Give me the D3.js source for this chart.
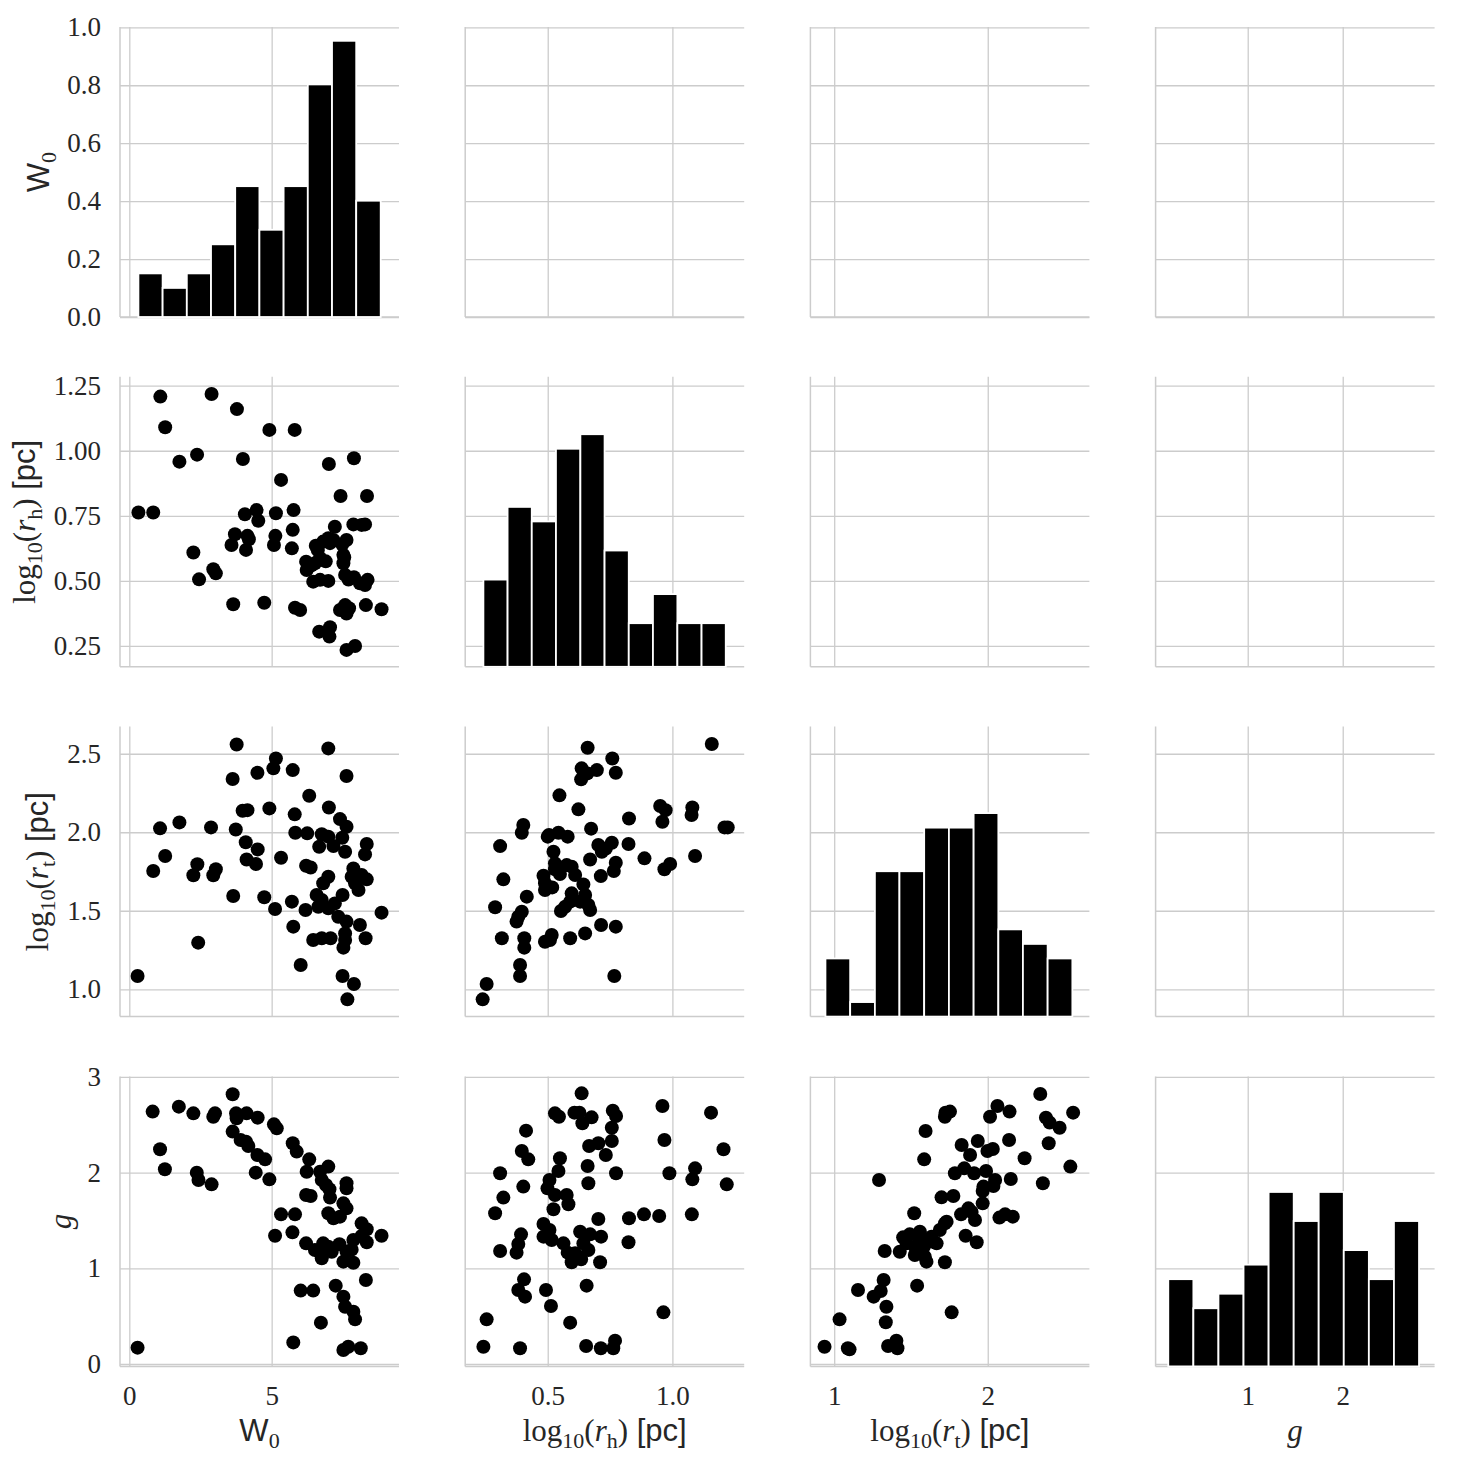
<!DOCTYPE html>
<html>
<head>
<meta charset="utf-8">
<script src="https://cdn.jsdelivr.net/npm/d3@7"></script>
<style>
  body { margin: 0; background: #fff; }
  svg text { fill: #262626; }
</style>
</head>
<body>
<div id="chart"></div>
<script>
// ---- data ----
var varNames = ["W0", "rh", "rt", "g"];

// histogram bin edges and counts (diagonal)
var w0Edges = [0.32, 1.17, 2.02, 2.87, 3.72, 4.57, 5.42, 6.27, 7.12, 7.97, 8.83];
var w0Counts = [3, 2, 3, 5, 9, 6, 9, 16, 19, 8];
var rhEdges = [0.242, 0.339, 0.436, 0.533, 0.631, 0.728, 0.825, 0.922, 1.020, 1.117, 1.214];
var rhCounts = [6, 11, 10, 15, 16, 8, 3, 5, 3, 3];
var rtEdges = [0.943, 1.104, 1.265, 1.425, 1.586, 1.747, 1.908, 2.069, 2.229, 2.390, 2.551];
var rtCounts = [4, 1, 10, 10, 13, 13, 14, 6, 5, 4];
var gEdges = [0.164, 0.428, 0.692, 0.956, 1.220, 1.484, 1.747, 2.011, 2.275, 2.539, 2.803];
var gCounts = [6, 4, 5, 7, 12, 10, 12, 8, 6, 10];

// scatter panels [x, y]
var w0Rh = [[1.09,1.208],[2.89,1.218],[3.78,1.160],[1.26,1.090],[4.92,1.080],[5.81,1.080],[1.76,0.958],[2.38,0.985],[3.99,0.968],[7.01,0.949],[7.89,0.971],[5.33,0.888],[7.42,0.826],[8.35,0.826],[0.32,0.763],[0.84,0.763],[4.06,0.756],[4.47,0.772],[4.53,0.731],[5.15,0.760],[5.77,0.772],[5.74,0.696],[7.22,0.708],[7.87,0.717],[8.28,0.717],[8.16,0.715],[3.71,0.679],[4.15,0.673],[3.59,0.638],[4.10,0.619],[5.13,0.673],[5.08,0.638],[5.71,0.625],[2.25,0.609],[6.55,0.635],[6.81,0.651],[6.99,0.664],[7.63,0.657],[6.70,0.587],[6.52,0.568],[6.21,0.574],[6.23,0.542],[7.52,0.600],[7.52,0.568],[2.95,0.545],[3.04,0.529],[2.45,0.506],[6.46,0.497],[6.70,0.504],[6.99,0.500],[7.58,0.523],[7.89,0.514],[8.10,0.491],[8.28,0.484],[8.37,0.504],[3.65,0.410],[4.74,0.416],[5.82,0.397],[6.00,0.388],[7.40,0.388],[7.63,0.375],[7.58,0.407],[8.31,0.407],[8.86,0.391],[6.67,0.305],[7.05,0.322],[7.03,0.286],[7.63,0.235],[7.93,0.250],[7.17,0.657],[6.62,0.618],[6.90,0.575],[6.40,0.560],[7.05,0.645],[7.48,0.640],[7.70,0.505],[7.72,0.395],[7.55,0.590],[4.20,0.660],[6.30,0.555]];

var w0Rt = [[3.77,2.559],[6.99,2.534],[5.15,2.470],[5.06,2.407],[5.74,2.396],[4.50,2.379],[3.63,2.339],[7.63,2.358],[6.32,2.233],[3.98,2.137],[4.15,2.141],[4.92,2.152],[7.01,2.158],[5.81,2.114],[7.40,2.084],[1.76,2.063],[1.08,2.025],[2.87,2.031],[3.74,2.018],[5.83,1.997],[6.25,1.993],[6.76,1.987],[6.99,1.972],[7.63,2.035],[7.48,1.965],[4.09,1.936],[6.67,1.908],[7.17,1.912],[8.34,1.925],[4.51,1.891],[7.58,1.876],[8.28,1.859],[1.26,1.849],[4.12,1.827],[4.45,1.798],[5.33,1.838],[2.39,1.796],[2.25,1.726],[0.84,1.753],[3.04,1.764],[2.95,1.726],[6.21,1.787],[6.37,1.776],[7.87,1.770],[7.81,1.717],[8.16,1.728],[8.34,1.700],[6.99,1.717],[6.81,1.675],[7.93,1.675],[8.05,1.632],[7.49,1.600],[3.65,1.594],[4.74,1.586],[6.58,1.600],[6.76,1.569],[5.71,1.558],[6.64,1.526],[6.99,1.516],[7.22,1.547],[5.12,1.511],[6.19,1.505],[8.86,1.488],[7.34,1.462],[7.63,1.431],[5.76,1.399],[8.10,1.409],[6.46,1.314],[6.76,1.325],[7.07,1.325],[7.58,1.356],[8.30,1.325],[2.42,1.297],[7.52,1.265],[6.02,1.155],[0.29,1.085],[7.49,1.085],[7.89,1.034],[7.66,0.936],[7.58,1.314]];

var w0G = [[3.63,2.819],[0.82,2.638],[1.74,2.690],[2.25,2.620],[2.95,2.585],[3.01,2.620],[3.75,2.620],[3.77,2.568],[4.12,2.620],[4.51,2.575],[5.08,2.505],[5.18,2.463],[3.63,2.429],[3.91,2.341],[4.10,2.324],[4.18,2.279],[1.08,2.244],[5.74,2.307],[5.88,2.220],[4.50,2.185],[4.77,2.139],[6.32,2.139],[6.99,2.063],[1.25,2.035],[2.37,2.000],[6.23,2.010],[6.70,2.010],[4.44,2.000],[2.43,1.923],[2.89,1.878],[4.92,1.930],[6.76,1.923],[6.91,1.871],[7.03,1.826],[7.63,1.889],[7.63,1.836],[6.21,1.767],[6.37,1.756],[7.05,1.739],[7.52,1.679],[7.63,1.627],[6.99,1.575],[7.17,1.523],[7.40,1.540],[5.33,1.564],[5.82,1.564],[5.12,1.341],[5.73,1.376],[8.16,1.470],[8.34,1.408],[8.16,1.338],[7.87,1.296],[8.34,1.272],[8.86,1.341],[6.21,1.261],[6.52,1.192],[6.81,1.261],[6.70,1.164],[6.76,1.105],[7.11,1.174],[7.38,1.251],[7.63,1.174],[7.52,1.070],[7.87,1.059],[8.31,0.878],[6.02,0.767],[6.46,0.767],[7.25,0.819],[7.52,0.704],[7.58,0.599],[7.87,0.547],[7.93,0.467],[6.73,0.432],[5.76,0.226],[0.29,0.171],[7.52,0.146],[7.69,0.181],[8.13,0.164],[6.99,1.226],[7.81,1.195]];

var rhRt = [[0.660,2.538],[0.759,2.470],[0.636,2.407],[0.697,2.396],[0.659,2.375],[0.773,2.379],[0.634,2.337],[1.158,2.562],[0.547,2.235],[0.623,2.146],[0.951,2.167],[0.973,2.141],[0.960,2.067],[1.080,2.158],[1.077,2.110],[0.826,2.088],[0.402,2.046],[0.396,1.997],[1.209,2.031],[1.222,2.031],[0.674,2.023],[0.500,1.972],[0.543,1.997],[0.580,1.972],[0.309,1.912],[0.523,1.876],[0.703,1.919],[0.757,1.933],[0.717,1.876],[0.824,1.925],[0.670,1.827],[0.888,1.834],[1.091,1.849],[0.773,1.806],[0.765,1.753],[0.968,1.764],[0.991,1.798],[0.576,1.791],[0.529,1.764],[0.549,1.734],[0.610,1.728],[0.483,1.723],[0.713,1.721],[0.322,1.700],[0.643,1.668],[0.489,1.632],[0.518,1.649],[0.416,1.590],[0.596,1.611],[0.630,1.558],[0.590,1.558],[0.289,1.522],[0.570,1.526],[0.663,1.537],[0.670,1.505],[0.553,1.499],[0.396,1.494],[0.382,1.462],[0.375,1.431],[0.714,1.409],[0.773,1.399],[0.316,1.325],[0.406,1.325],[0.406,1.265],[0.489,1.303],[0.516,1.346],[0.590,1.325],[0.650,1.356],[0.389,1.155],[0.389,1.085],[0.767,1.085],[0.255,1.034],[0.239,0.936],[0.509,1.314],[0.505,1.983],[0.733,1.897],[0.650,1.600],[0.529,1.802],[0.596,1.781],[0.489,1.675]];

var rhG = [[0.636,2.829],[0.960,2.697],[1.155,2.627],[0.529,2.620],[0.545,2.585],[0.607,2.627],[0.627,2.627],[0.639,2.516],[0.676,2.578],[0.761,2.648],[0.774,2.592],[0.757,2.470],[0.413,2.439],[0.968,2.341],[0.757,2.331],[0.666,2.279],[0.703,2.307],[0.396,2.226],[0.422,2.139],[1.205,2.244],[0.733,2.185],[0.549,2.150],[0.660,2.070],[1.091,2.045],[0.309,1.993],[0.543,2.017],[0.774,1.993],[0.988,1.993],[1.080,1.930],[1.218,1.878],[0.402,1.854],[0.507,1.923],[0.499,1.836],[0.663,1.889],[0.322,1.739],[0.529,1.767],[0.576,1.767],[0.583,1.669],[0.523,1.617],[0.289,1.575],[0.826,1.523],[0.886,1.564],[0.947,1.547],[1.078,1.564],[0.703,1.516],[0.483,1.463],[0.507,1.401],[0.483,1.331],[0.393,1.355],[0.630,1.383],[0.670,1.355],[0.714,1.331],[0.516,1.296],[0.563,1.261],[0.382,1.254],[0.309,1.181],[0.375,1.164],[0.580,1.164],[0.596,1.063],[0.634,1.094],[0.643,1.261],[0.824,1.272],[0.710,1.063],[0.405,0.885],[0.656,0.819],[0.382,0.774],[0.409,0.704],[0.493,0.774],[0.513,0.606],[0.964,0.540],[0.590,0.432],[0.255,0.467],[0.242,0.181],[0.389,0.164],[0.654,0.188],[0.713,0.164],[0.770,0.244],[0.763,0.164],[0.610,1.157],[0.663,1.192]];

var rtG = [[2.342,2.822],[2.063,2.697],[2.015,2.585],[2.142,2.638],[2.556,2.627],[1.725,2.627],[1.754,2.638],[1.721,2.585],[2.379,2.575],[2.403,2.523],[2.468,2.470],[1.595,2.436],[1.935,2.331],[1.830,2.289],[2.139,2.341],[2.397,2.307],[1.998,2.226],[2.033,2.247],[1.885,2.185],[2.240,2.150],[1.586,2.139],[2.538,2.063],[1.786,1.993],[1.847,2.045],[1.911,1.993],[1.989,2.017],[1.292,1.923],[2.150,1.934],[2.359,1.889],[1.972,1.854],[2.037,1.861],[1.967,1.808],[1.699,1.742],[1.776,1.756],[1.967,1.679],[1.521,1.575],[1.826,1.564],[1.874,1.627],[1.917,1.505],[2.076,1.530],[2.113,1.564],[2.163,1.540],[1.721,1.470],[1.688,1.401],[1.492,1.355],[1.558,1.383],[1.634,1.331],[1.667,1.261],[1.856,1.341],[1.928,1.272],[1.329,1.181],[1.427,1.174],[1.471,1.261],[1.525,1.226],[1.525,1.139],[1.584,1.226],[1.590,1.122],[1.601,1.070],[1.721,1.063],[1.558,1.296],[1.322,0.878],[1.155,0.774],[1.257,0.704],[1.303,0.763],[1.540,0.819],[1.340,0.599],[1.765,0.540],[1.035,0.467],[1.336,0.436],[0.937,0.181],[1.089,0.164],[1.351,0.188],[1.405,0.244],[1.412,0.164],[1.100,0.153],[1.732,1.488],[1.449,1.324],[2.048,1.923],[1.895,1.589],[1.641,1.279]];

// axis ticks
var colTicks = [[0, 5], [0.5, 1.0], [1, 2], [1, 2]];
var rowTicks = [[0, 0.2, 0.4, 0.6, 0.8, 1.0], [0.25, 0.5, 0.75, 1.0, 1.25], [1.0, 1.5, 2.0, 2.5], [0, 1, 2, 3]];
var colFormats = ["d", ".1f", "d", "d"];
var rowFormats = [".1f", ".2f", ".1f", "d"];

// ---- layout ----
var width = 1461, height = 1465;
var cellW = 279, cellH = 290;
var colLeft = [120, 465.2, 810.4, 1155.6];
var rowTop = [27, 376.8, 726.6, 1076.4];

var xDomains = [[-0.327, 9.473], [0.169, 1.288], [0.845, 2.662], [0.0305, 2.967]];
var yDomains = [[0, 1.001], [0.170, 1.284], [0.826, 2.673], [-0.025, 3.006]];
var countMax = 19.95;

var hists = [
	{edges: w0Edges, counts: w0Counts},
	{edges: rhEdges, counts: rhCounts},
	{edges: rtEdges, counts: rtCounts},
	{edges: gEdges, counts: gCounts}
];
var scatters = {"1,0": w0Rh, "2,0": w0Rt, "3,0": w0G, "2,1": rhRt, "3,1": rhG, "3,2": rtG};

var serif = "'Liberation Serif', 'DejaVu Serif', serif";
var sans = "'Liberation Sans', 'DejaVu Sans', sans-serif";
var gridColor = "#cccccc";

var svg = d3.select("#chart")
	.append("svg")
	.attr("width", width)
	.attr("height", height)
	.attr("viewBox", "0 0 " + width + " " + height);

for (var i = 0; i < 4; i++) {
	for (var j = 0; j < 4; j++) {
		drawCell(i, j);
	}
}

function drawCell(i, j) {
	var cell = svg.append("g")
		.attr("transform", "translate(" + colLeft[j] + "," + rowTop[i] + ")");

	var x = d3.scaleLinear().domain(xDomains[j]).range([0, cellW]);
	var y = d3.scaleLinear().domain(yDomains[i]).range([cellH, 0]);

	// grid + tick labels
	var yAxis = d3.axisLeft(y)
		.tickValues(rowTicks[i])
		.tickSize(-cellW)
		.tickPadding(19)
		.tickFormat(j == 0 ? d3.format(rowFormats[i]) : "");
	var xAxis = d3.axisBottom(x)
		.tickValues(colTicks[j])
		.tickSize(-cellH)
		.tickPadding(19)
		.tickFormat(i == 3 ? d3.format(colFormats[j]) : "");

	var ya = cell.append("g").call(yAxis);
	var xa = cell.append("g").attr("transform", "translate(0," + cellH + ")").call(xAxis);
	[ya, xa].forEach(function(a) {
		a.select(".domain").remove();
		a.selectAll("line").attr("stroke", gridColor).attr("stroke-width", 1.3);
		a.selectAll("text")
			.attr("fill", "#262626")
			.style("font-family", serif)
			.style("font-size", "27px");
	});

	// spines
	cell.append("line")
		.attr("x1", 0).attr("x2", 0).attr("y1", 0).attr("y2", cellH)
		.attr("stroke", gridColor).attr("stroke-width", 1.5);
	cell.append("line")
		.attr("x1", 0).attr("x2", cellW).attr("y1", cellH).attr("y2", cellH)
		.attr("stroke", gridColor).attr("stroke-width", 1.5);

	if (i == j) {
		var h = hists[i];
		var yc = d3.scaleLinear().domain([0, countMax]).range([cellH, 0]);
		cell.selectAll(".bar")
			.data(h.counts)
			.enter()
			.append("rect")
			.attr("class", "bar")
			.attr("x", function(d, k) { return x(h.edges[k]); })
			.attr("y", function(d) { return yc(d); })
			.attr("width", function(d, k) { return x(h.edges[k + 1]) - x(h.edges[k]); })
			.attr("height", function(d) { return cellH - yc(d); })
			.attr("fill", "#000")
			.attr("stroke", "#fff")
			.attr("stroke-width", 1.8);
	}
	else if (i > j) {
		var pts = scatters[i + "," + j];
		cell.selectAll(".dot")
			.data(pts)
			.enter()
			.append("circle")
			.attr("class", "dot")
			.attr("cx", function(d) { return x(d[0]); })
			.attr("cy", function(d) { return y(d[1]); })
			.attr("r", 7)
			.attr("fill", "#000");
	}
}

// ---- axis labels ----
var labelParts = [
	[{t: "W", f: sans}, {t: "0", f: serif, sub: true}],
	[{t: "log", f: serif}, {t: "10", f: serif, sub: true}, {t: "(", f: serif}, {t: "r", f: serif, it: true},
	 {t: "h", f: serif, sub: true}, {t: ")", f: serif}, {t: "\u00a0[pc]", f: sans}],
	[{t: "log", f: serif}, {t: "10", f: serif, sub: true}, {t: "(", f: serif}, {t: "r", f: serif, it: true},
	 {t: "t", f: serif, sub: true}, {t: ")", f: serif}, {t: "\u00a0[pc]", f: sans}],
	[{t: "g", f: serif, it: true}]
];

function writeLabel(text, parts) {
	var shifted = false;
	parts.forEach(function(p) {
		var ts = text.append("tspan")
			.text(p.t)
			.style("font-family", p.f)
			.style("font-style", p.it ? "italic" : "normal")
			.style("font-size", p.sub ? "22px" : "31px");
		if (p.sub && !shifted) { ts.attr("dy", 7); shifted = true; }
		else if (!p.sub && shifted) { ts.attr("dy", -7); shifted = false; }
	});
}

var yLabelX = [49, 35, 48, 71];
for (var r = 0; r < 4; r++) {
	var t = svg.append("text")
		.attr("transform", "translate(" + yLabelX[r] + "," + (rowTop[r] + cellH / 2) + ") rotate(-90)")
		.attr("text-anchor", "middle");
	writeLabel(t, labelParts[r]);
}
for (var c = 0; c < 4; c++) {
	var tx = svg.append("text")
		.attr("x", colLeft[c] + cellW / 2)
		.attr("y", 1441)
		.attr("text-anchor", "middle");
	writeLabel(tx, labelParts[c]);
}
</script>
</body>
</html>
